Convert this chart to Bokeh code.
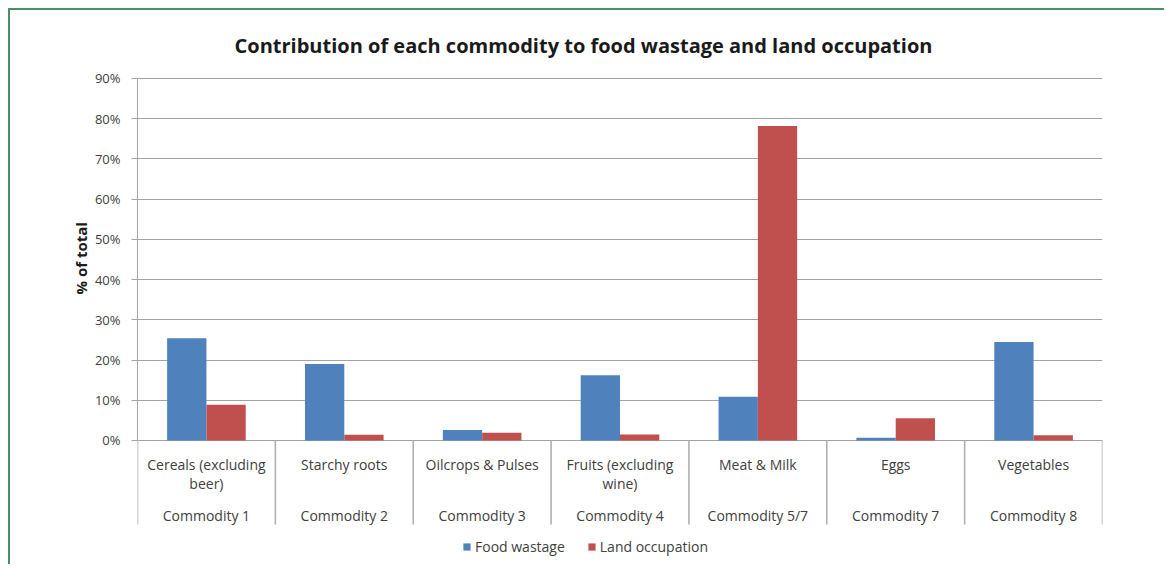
import math
from bokeh.plotting import figure
from bokeh.models import (Range1d, FixedTicker, PrintfTickFormatter, Legend, LegendItem,
                          Label, Title, ColumnDataSource)
from bokeh.transform import dodge
from bokeh.core.properties import value
from bokeh.embed import file_html
from bokeh.resources import INLINE

# ---- data ----
categories = ["Cereals (excluding\nbeer)", "Starchy roots", "Oilcrops & Pulses",
              "Fruits (excluding\nwine)", "Meat & Milk", "Eggs", "Vegetables"]
groups = ["Commodity 1", "Commodity 2", "Commodity 3", "Commodity 4",
          "Commodity 5/7", "Commodity 7", "Commodity 8"]
food_wastage = [25.4, 19.0, 2.6, 16.2, 10.9, 0.7, 24.5]
land_occupation = [8.9, 1.4, 1.9, 1.5, 78.2, 5.5, 1.3]
y_ticks = [0, 10, 20, 30, 40, 50, 60, 70, 80, 90]
series_names = ["Food wastage", "Land occupation"]
title_text = "Contribution of each commodity to food wastage and land occupation"
y_title = "% of total"

FONT = "Open Sans"
BLUE = "#4F81BD"
RED = "#C0504D"
GRID = "#a3a3a3"
TXT = "#404040"

W, H = 1156, 556
n = len(categories)
xc = [i + 0.5 for i in range(n)]
src = ColumnDataSource(dict(x=xc, food=food_wastage, land=land_occupation,
                            cat=categories, grp=groups))

Y_TOP, Y_BOT, CAT_BOT = 106.9, -31.33, -20.88

p = figure(width=W, height=H, x_range=Range1d(0, n), y_range=Range1d(Y_BOT, Y_TOP),
           output_backend="svg", toolbar_location=None, x_axis_location=None,
           min_border_left=127, min_border_right=W - 1092, min_border_top=0, min_border_bottom=0)
p.styles = {"margin-left": "8px", "margin-top": "8px",
            "border-top": "2px solid #4a8f69", "border-left": "2px solid #4a8f69"}
p.outline_line_color = None
p.background_fill_color = "white"
p.border_fill_color = "white"

bw = 0.285
r1 = p.vbar(x=dodge("x", -bw / 2, range=p.x_range), top="food", width=bw, source=src,
            fill_color=BLUE, line_color=None)
r2 = p.vbar(x=dodge("x", bw / 2, range=p.x_range), top="land", width=bw, source=src,
            fill_color=RED, line_color=None)

# axis
ax = p.yaxis[0]
ax.ticker = FixedTicker(ticks=y_ticks, minor_ticks=[])
ax.bounds = (0, 90)
ax.formatter = PrintfTickFormatter(format="%d%%")
ax.axis_line_color = GRID
ax.major_tick_line_color = GRID
ax.major_tick_in = 0
ax.major_tick_out = 6
ax.minor_tick_line_color = None
ax.major_label_text_font = FONT
ax.major_label_text_font_size = "13px"
ax.major_label_text_color = TXT
ax.major_label_standoff = 11
p.ygrid.ticker = FixedTicker(ticks=y_ticks)
p.ygrid.grid_line_color = GRID
p.xgrid.visible = False

# y-axis title as a side title, placed along the 0..90% span
p.add_layout(Title(text=y_title, align="left", offset=272, vertical_align="middle",
                   text_font=FONT, text_font_size="15px", text_font_style="bold",
                   text_color="#1a1a1a", standoff=0), "left")

# category separators (left one continues the axis line)
sep_x = [float(i) for i in range(0, n + 1)]
p.segment(x0=sep_x, y0=[0] * (n + 1), x1=sep_x, y1=[CAT_BOT] * (n + 1),
          line_color="#b0b0b0", line_width=1.6)

# category labels
p.text(x="x", y=-3.7, text="cat", source=src, text_align="center", text_baseline="top",
       text_font=value(FONT), text_font_size="14px", text_color=TXT, text_line_height=1.0)
p.text(x="x", y=-18.65, text="grp", source=src, text_align="center", text_baseline="middle",
       text_font=value(FONT), text_font_size="14px", text_color=TXT)

# title
p.add_layout(Label(x=446, y=H - 35, x_units="screen", y_units="screen", text=title_text,
                   text_align="center", text_baseline="middle", text_font=FONT,
                   text_font_size="20px", text_font_style="bold", text_color="#1a1a1a"))

legend = Legend(items=[LegendItem(label=series_names[0], renderers=[r1]),
                       LegendItem(label=series_names[1], renderers=[r2])],
                location=(325, 10), orientation="horizontal", border_line_color=None,
                background_fill_alpha=0, padding=0, margin=0, spacing=22,
                glyph_width=9, glyph_height=9, label_standoff=4, label_height=16,
                label_text_font=FONT, label_text_font_size="14px", label_text_color=TXT)
p.add_layout(legend, "center")

open("out.html", "w").write(file_html(p, INLINE))
